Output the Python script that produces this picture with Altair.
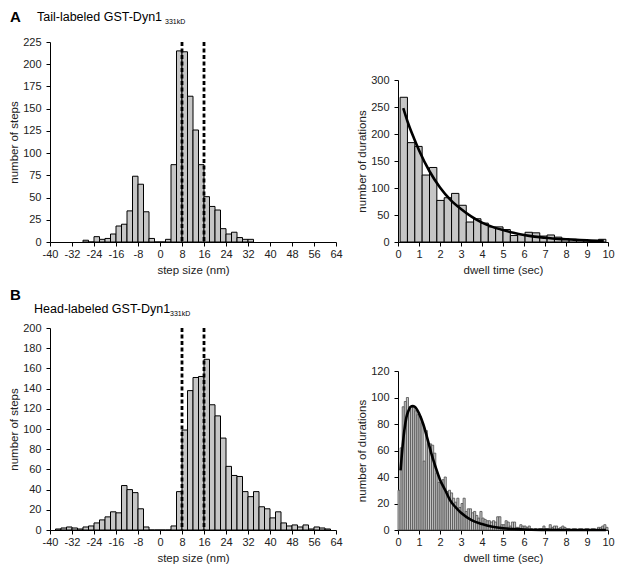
import altair as alt
import pandas as pd

FONT = "Liberation Sans"
BAR_FILL = "#c6c6c6"

# ---------------- Panel A (tail-labeled) ----------------
a_step_left = [-28, -26, -24, -22, -20, -18, -16, -14, -12, -10, -8, -6, -4, -2, 0,
               2, 4, 6, 8, 10, 12, 14, 16, 18, 20, 22, 24, 26, 28, 30, 32]
a_step_count = [2, 0, 6, 3, 4, 9, 18, 20, 35, 74, 65, 34, 4, 0, 0,
                3, 87, 215, 214, 164, 126, 87, 51, 40, 36, 15, 9, 11, 5, 3, 3]

a_dwell_left = [0.10, 0.45, 0.80, 1.15, 1.50, 1.85, 2.20, 2.55, 2.90, 3.25, 3.60, 3.95, 4.30, 4.65,
                5.00, 5.35, 5.70, 6.05, 6.40, 6.75, 7.10, 7.45, 7.80, 8.15, 8.50, 8.85, 9.20, 9.55]
a_dwell_count = [268, 184, 177, 124, 138, 77, 82, 90, 68, 37, 43, 35, 28, 28,
                 23, 12, 14, 18, 17, 11, 13, 9, 6, 5, 4, 3, 2, 5]
a_dwell_binwidth = 0.35

a_fit_t = [0.25, 0.5, 0.75, 1.0, 1.5, 2.0, 2.5, 3.0, 3.5, 4.0, 4.5, 5.0, 5.5, 6.0, 6.5, 7.0, 7.5, 8.0, 8.5, 9.0, 9.8]
a_fit_n = [248, 218, 193, 170, 131, 101, 78, 61, 47, 36, 28, 22, 17, 13, 10, 8, 6, 5, 4, 3, 2]

# ---------------- Panel B (head-labeled) ----------------
b_step_left = [-38, -36, -34, -32, -30, -28, -26, -24, -22, -20, -18, -16, -14, -12, -10, -8, -6,
               -4, -2, 0, 2, 4, 6, 8, 10, 12, 14, 16, 18, 20, 22, 24, 26, 28, 30, 32, 34, 36,
               38, 40, 42, 44, 46, 48, 50, 52, 54, 56, 58, 60]
b_step_count = [1, 2, 3, 2, 1, 3, 4, 7, 10, 13, 18, 17, 44, 40, 37, 21, 3,
                0, 0, 0, 0, 4, 38, 99, 138, 151, 152, 169, 124, 113, 91, 63, 54, 53, 38, 33, 38, 23,
                21, 12, 18, 7, 4, 5, 3, 5, 1, 3, 2, 1]

b_dwell_left = [i / 10 for i in range(100)]
b_dwell_count = [30, 62, 93, 97, 100, 93, 93, 93, 90, 87,
                 86, 81, 52, 75, 65, 65, 64, 58, 43, 36,
                 36, 38, 40, 29, 30, 28, 24, 21, 24, 17,
                 20, 24, 14, 16, 16, 13, 14, 11, 9, 14,
                 9, 8, 7, 7, 6, 7, 6, 10, 10, 4,
                 4, 7, 6, 3, 6, 6, 2, 2, 4, 3,
                 3, 2, 3, 1, 0, 1, 0, 1, 1, 3,
                 1, 1, 4, 2, 3, 3, 1, 2, 3, 2,
                 1, 1, 0, 1, 1, 0, 1, 1, 0, 1,
                 1, 0, 1, 1, 0, 2, 2, 3, 4, 2]
b_dwell_binwidth = 0.1

b_fit_t = [0.12, 0.2, 0.3, 0.4, 0.5, 0.6, 0.7, 0.8, 0.9, 1.0, 1.2, 1.4, 1.6, 1.8, 2.0, 2.25, 2.5,
           2.75, 3.0, 3.5, 4.0, 4.5, 5.0, 6.0, 7.0, 8.0, 9.9]
b_fit_n = [45, 60, 75, 85, 90, 93, 93.5, 93, 91, 88, 80, 69, 57, 47, 38, 30, 22,
           17, 13, 7.5, 4.5, 2.5, 1.3, 0.4, 0.1, 0, 0]

dashed_at = [8, 16]

one = pd.DataFrame({"k": [0]})
HYPHEN_LABEL = "'' + datum.value"


def text_layer(txt, x, y, size, weight="normal"):
    return alt.Chart(one).mark_text(
        text=txt, align="left", baseline="alphabetic", fontSize=size,
        fontWeight=weight, font=FONT, color="black"
    ).encode(x=alt.value(x), y=alt.value(y))


def step_panel(left, counts, ymax, ystep, height, letter, title, lx, ly, tx, ty, sx, sy):
    df = pd.DataFrame({"x": left, "x2": [v + 2 for v in left], "n": counts})
    xs = alt.Scale(domain=[-40, 64], nice=False, zero=False)
    ys = alt.Scale(domain=[0, ymax], nice=False)
    xtitle = "step size (nm)"
    xaxis = alt.Axis(values=list(range(-40, 65, 8)), labelOverlap=False, labelExpr=HYPHEN_LABEL)
    bars = alt.Chart(df).mark_bar(fill=BAR_FILL, stroke="black", strokeWidth=1).encode(
        x=alt.X("x:Q", scale=xs, title=xtitle, axis=xaxis),
        x2="x2:Q",
        y=alt.Y("n:Q", scale=ys, title="number of steps",
                axis=alt.Axis(values=list(range(0, ymax + 1, ystep)), labelOverlap=False)),
        y2=alt.datum(0),
    )
    rules = alt.Chart(pd.DataFrame({"x": dashed_at})).mark_rule(
        strokeDash=[4, 2.5], strokeWidth=2.8, color="black"
    ).encode(x=alt.X("x:Q", scale=xs, title=xtitle, axis=xaxis))
    return alt.layer(
        bars, rules,
        text_layer(letter, lx, ly, 15, "bold"),
        text_layer(title, tx, ty, 12.5),
        text_layer("331kD", sx, sy, 7),
    ).properties(width=286, height=height)


def dwell_panel(left, width_bin, counts, ft, fn, ymax, ystep, height, top, fill, stroke, sw):
    df = pd.DataFrame({"x": left, "x2": [v + width_bin for v in left], "n": counts})
    fit = pd.DataFrame({"x": ft, "n": fn})
    xs = alt.Scale(domain=[0, 10], nice=False)
    ys = alt.Scale(domain=[0, ymax], nice=False, range=[height, top])
    xt = "dwell time (sec)"
    yt = "number of durations"
    xaxis = alt.Axis(values=list(range(0, 11)), labelOverlap=False)
    yaxis = alt.Axis(values=list(range(0, ymax + 1, ystep)), labelOverlap=False)
    bars = alt.Chart(df).mark_bar(fill=fill, stroke=stroke, strokeWidth=sw).encode(
        x=alt.X("x:Q", scale=xs, title=xt, axis=xaxis),
        x2="x2:Q",
        y=alt.Y("n:Q", scale=ys, title=yt, axis=yaxis),
        y2=alt.datum(0),
    )
    curve = alt.Chart(fit).mark_line(color="black", strokeWidth=2.6, interpolate="monotone").encode(
        x=alt.X("x:Q", scale=xs, title=xt, axis=xaxis),
        y=alt.Y("n:Q", scale=ys, title=yt, axis=yaxis),
    )
    return alt.layer(bars, curve).properties(width=210, height=height)


a_left = step_panel(a_step_left, a_step_count, 225, 25, 200, "A", "Tail-labeled GST-Dyn1",
                    -40, -20, -13, -21, 115, -18)
a_right = dwell_panel(a_dwell_left, a_dwell_binwidth, a_dwell_count, a_fit_t, a_fit_n,
                      300, 50, 200, 38, BAR_FILL, "black", 1)
b_left = step_panel(b_step_left, b_step_count, 200, 20, 202, "B", "Head-labeled GST-Dyn1",
                    -40, -28, -16, -15, 120, -12)
b_right = dwell_panel(b_dwell_left, b_dwell_binwidth, b_dwell_count, b_fit_t, b_fit_n,
                      120, 20, 202, 43, "#c4c4c4", "#4e4e4e", 0.8)

chart = alt.concat(
    a_left, a_right, b_left, b_right,
    columns=2,
    spacing=alt.RowColnumber(row=86, column=62),
    bounds="flush",
).properties(padding={"left": 0, "top": 2, "right": 0, "bottom": 0}).configure_view(
    stroke=None
).configure_axis(
    labelFont=FONT, titleFont=FONT, labelFontSize=11, titleFontSize=11.5,
    titleFontWeight="normal", labelColor="#222222", titleColor="#222222",
    domainColor="black", tickColor="black", tickSize=4, grid=False,
    labelOverlap=False, labelFlush=False,
).configure_axisX(labelPadding=2, titlePadding=5).configure_axisY(labelPadding=5, titlePadding=3)

chart.save("out.html", embed_options={"renderer": "svg", "actions": False})
